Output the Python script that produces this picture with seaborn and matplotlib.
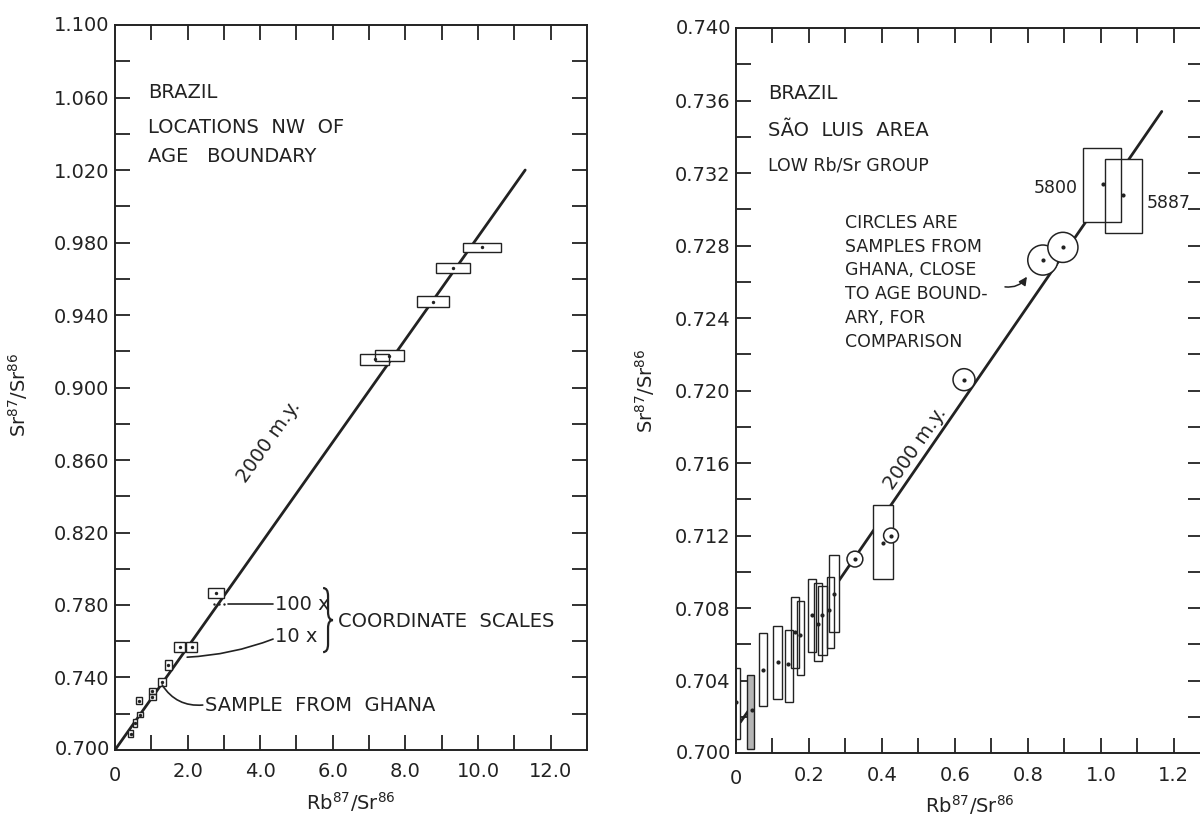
import numpy as np
import pandas as pd
import matplotlib
matplotlib.use("Agg")
import matplotlib.pyplot as plt
import seaborn as sns
from matplotlib.patches import Rectangle, PathPatch
from matplotlib.path import Path

# ==========================================
# Data
# ==========================================
# left panel: locations NW of age boundary
L_ISO_X = [0.0, 11.3]
L_ISO_Y = [0.700, 1.020]

L_BOX_X0 = [9.59, 8.84, 8.32, 6.75, 7.15, 2.56, 1.63, 1.96, 1.38, 1.18, 0.94, 0.94, 0.58, 0.60, 0.50, 0.36]
L_BOX_X1 = [10.63, 9.78, 9.20, 7.55, 7.95, 3.00, 1.93, 2.26, 1.57, 1.40, 1.13, 1.13, 0.74, 0.77, 0.60, 0.50]
L_BOX_Y0 = [0.9748, 0.9632, 0.9443, 0.9125, 0.9145, 0.7839, 0.7541, 0.7541, 0.7442, 0.7353, 0.7308, 0.7276, 0.7254, 0.7180, 0.7127, 0.7070]
L_BOX_Y1 = [0.9798, 0.9688, 0.9505, 0.9185, 0.9205, 0.7894, 0.7596, 0.7596, 0.7497, 0.7397, 0.7340, 0.7308, 0.7292, 0.7210, 0.7170, 0.7110]
L_DOT_X = [10.11, 9.31, 8.76, 7.15, 7.55, 2.78, 1.78, 2.11, 1.47, 1.29, 1.03, 1.03, 0.66, 0.68, 0.55, 0.43]
L_DOT_Y = [0.9773, 0.9660, 0.9474, 0.9155, 0.9175, 0.7867, 0.7568, 0.7568, 0.7470, 0.7375, 0.7324, 0.7292, 0.7273, 0.7195, 0.7150, 0.7090]
L_SCALE_X = [2.72, 2.86, 3.00]        # tiny "100 x" marker
L_SCALE_Y = [0.7805, 0.7805, 0.7805]

# right panel: Sao Luis area, low Rb/Sr group
R_ISO_X = [[0.012, 0.040], [0.275, 1.167]]
R_ISO_Y = [[0.7017, 0.7025], [0.7093, 0.7354]]

R_BOX_X0 = [-0.002, 0.030, 0.063, 0.101, 0.134, 0.150, 0.167, 0.197, 0.214, 0.225, 0.249, 0.255, 0.375, 0.951, 1.011]
R_BOX_X1 = [0.011, 0.049, 0.085, 0.126, 0.156, 0.173, 0.186, 0.219, 0.236, 0.249, 0.268, 0.282, 0.430, 1.055, 1.112]
R_BOX_Y0 = [0.7008, 0.7002, 0.7026, 0.7030, 0.7028, 0.7047, 0.7043, 0.7056, 0.7051, 0.7054, 0.7058, 0.7067, 0.7096, 0.7293, 0.7287]
R_BOX_Y1 = [0.7047, 0.7043, 0.7066, 0.7070, 0.7068, 0.7086, 0.7084, 0.7096, 0.7094, 0.7092, 0.7097, 0.7109, 0.7137, 0.7334, 0.7328]
R_DOT_X = [0.000, 0.044, 0.074, 0.115, 0.143, 0.162, 0.175, 0.208, 0.225, 0.235, 0.255, 0.268, 0.403, 1.005, 1.060]
R_DOT_Y = [0.7028, 0.7024, 0.7046, 0.7050, 0.7049, 0.7067, 0.7065, 0.7076, 0.7071, 0.7076, 0.7079, 0.7088, 0.7116, 0.7314, 0.7308]

# Ghana samples (circles)
R_CIRC_X = [0.326, 0.425, 0.625, 0.841, 0.896]
R_CIRC_Y = [0.7107, 0.7120, 0.7206, 0.7272, 0.7279]

# tick labels
L_XTICKLABELS = ['0', '', '2.0', '', '4.0', '', '6.0', '', '8.0', '', '10.0', '', '12.0']
L_YTICKLABELS = ['0.700', '', '0.740', '', '0.780', '', '0.820', '', '0.860', '', '0.900',
                 '', '0.940', '', '0.980', '', '1.020', '', '1.060', '', '1.100']
R_XTICKLABELS = ['0', '', '0.2', '', '0.4', '', '0.6', '', '0.8', '', '1.0', '', '1.2']
R_YTICKLABELS = ['0.700', '', '0.704', '', '0.708', '', '0.712', '', '0.716', '', '0.720',
                 '', '0.724', '', '0.728', '', '0.732', '', '0.736', '', '0.740']

# ==========================================
# Style
# ==========================================
INK = '#222222'
sns.set_theme(style="ticks")
plt.rcParams['font.family'] = ['DejaVu Sans']
plt.rcParams['text.color'] = INK
plt.rcParams['axes.edgecolor'] = INK
plt.rcParams['xtick.color'] = INK
plt.rcParams['ytick.color'] = INK
plt.rcParams['axes.labelcolor'] = INK
plt.rcParams['mathtext.default'] = 'regular'


def style_axes(ax, xlim, ylim, xstep, xticklabels, yticklabels):
    ax.set_xlim(*xlim)
    ax.set_ylim(*ylim)
    xt = np.linspace(xlim[0], xlim[0] + (len(xticklabels) - 1) * xstep, len(xticklabels))
    yt = np.linspace(ylim[0], ylim[1], len(yticklabels))
    ax.set_xticks(xt[1:])
    ax.set_xticklabels(xticklabels[1:])
    ax.set_yticks(yt[1:-1])
    ax.set_yticklabels(yticklabels[1:-1])
    for s in ax.spines.values():
        s.set_linewidth(1.4)
        s.set_visible(True)
    ax.tick_params(direction='in', length=10.5, width=1.3, top=True, right=True,
                   labelsize=14)
    ax.tick_params(axis='x', pad=9)
    ax.tick_params(axis='y', pad=4)
    # corner labels that sit on the spines
    ax.text(0, -0.022, xticklabels[0], transform=ax.transAxes, ha='center', va='top',
            fontsize=14)
    ax.text(-0.011, 0, yticklabels[0], transform=ax.transAxes, ha='right', va='center',
            fontsize=14)
    ax.text(-0.011, 1, yticklabels[-1], transform=ax.transAxes, ha='right', va='center',
            fontsize=14)
    ax.set_xlabel(r'Rb$^{87}$/Sr$^{86}$', fontsize=14)
    ax.set_ylabel(r'Sr$^{87}$/Sr$^{86}$', fontsize=14)
    ax.xaxis.set_label_coords(0.5, -0.055)


def draw_boxes(ax, x0, x1, y0, y1, fills):
    for a, b, c, d, f in zip(x0, x1, y0, y1, fills):
        ax.add_patch(Rectangle((a, c), b - a, d - c, facecolor=f, edgecolor='none', zorder=2))
        ax.add_patch(Rectangle((a, c), b - a, d - c, facecolor='none', edgecolor=INK,
                               linewidth=1.0, zorder=3))


def draw_brace(ax, x0, y0, y1, w, q):
    xm = x0 + w / 2
    ym = (y0 + y1) / 2
    verts = [(x0, y1), (xm, y1), (xm, y1 - q), (xm, ym + q), (xm, ym), (x0 + w, ym),
             (x0 + w, ym), (xm, ym), (xm, ym - q), (xm, y0 + q), (xm, y0), (x0, y0)]
    codes = [Path.MOVETO, Path.CURVE3, Path.CURVE3, Path.LINETO, Path.CURVE3, Path.CURVE3,
             Path.MOVETO, Path.CURVE3, Path.CURVE3, Path.LINETO, Path.CURVE3, Path.CURVE3]
    ax.add_patch(PathPatch(Path(verts, codes), fill=False, edgecolor=INK, linewidth=1.6,
                           transform=ax.transAxes, clip_on=False))


fig = plt.figure(figsize=(12, 8.21), dpi=100)
axL = fig.add_axes([0.0958, 0.0865, 0.3933, 0.883])
axR = fig.add_axes([0.6133, 0.0828, 0.3892, 0.883])

# ---------------- left panel ----------------
iso_l = pd.DataFrame({'x': L_ISO_X, 'y': L_ISO_Y})
sns.lineplot(data=iso_l, x='x', y='y', ax=axL, color=INK, linewidth=2.0, zorder=1,
             estimator=None, sort=False)
draw_boxes(axL, L_BOX_X0, L_BOX_X1, L_BOX_Y0, L_BOX_Y1, ['white'] * len(L_BOX_X0))
dots_l = pd.DataFrame({'x': L_DOT_X, 'y': L_DOT_Y})
sns.scatterplot(data=dots_l, x='x', y='y', ax=axL, color=INK, s=6, linewidth=0, zorder=4)
sc_l = pd.DataFrame({'x': L_SCALE_X, 'y': L_SCALE_Y})
sns.scatterplot(data=sc_l, x='x', y='y', ax=axL, color=INK, s=3, linewidth=0, zorder=4)
style_axes(axL, (0, 13), (0.700, 1.100), 1.0, L_XTICKLABELS, L_YTICKLABELS)
axL.yaxis.set_label_coords(-0.18, 0.49)

axL.text(0.07, 0.907, 'BRAZIL', transform=axL.transAxes, fontsize=14, va='center')
axL.text(0.07, 0.858, 'LOCATIONS  NW  OF', transform=axL.transAxes, fontsize=14, va='center')
axL.text(0.07, 0.819, 'AGE   BOUNDARY', transform=axL.transAxes, fontsize=14, va='center')
axL.text(0.325, 0.425, '2000 m.y.', transform=axL.transAxes, fontsize=14, rotation=54.7,
         ha='center', va='center')

axL.text(0.339, 0.201, '100 x', transform=axL.transAxes, fontsize=14, va='center')
axL.text(0.339, 0.156, '10 x', transform=axL.transAxes, fontsize=14, va='center')
axL.plot([0.239, 0.335], [0.201, 0.201], transform=axL.transAxes, color=INK, linewidth=1.2)
axL.annotate('', xy=(0.153, 0.128), xytext=(0.335, 0.153), xycoords='axes fraction',
             textcoords='axes fraction',
             arrowprops=dict(arrowstyle='-', color=INK, linewidth=1.2,
                             connectionstyle='arc3,rad=-0.08', shrinkA=0, shrinkB=0))
draw_brace(axL, 0.441, 0.135, 0.2234, 0.021, 0.011)
axL.text(0.472, 0.177, 'COORDINATE  SCALES', transform=axL.transAxes, fontsize=14,
         va='center')
axL.text(0.19, 0.062, 'SAMPLE  FROM  GHANA', transform=axL.transAxes, fontsize=14,
         va='center')
axL.annotate('', xy=(0.10, 0.0897), xytext=(0.186, 0.062), xycoords='axes fraction',
             textcoords='axes fraction',
             arrowprops=dict(arrowstyle='-', color=INK, linewidth=1.2,
                             connectionstyle='arc3,rad=-0.3', shrinkA=0, shrinkB=0))

# ---------------- right panel ----------------
for sx, sy in zip(R_ISO_X, R_ISO_Y):
    seg = pd.DataFrame({'x': sx, 'y': sy})
    sns.lineplot(data=seg, x='x', y='y', ax=axR, color=INK, linewidth=2.0, zorder=1,
                 estimator=None, sort=False)
fills = ['white'] * len(R_BOX_X0)
fills[1] = '#b5b5b5'
draw_boxes(axR, R_BOX_X0, R_BOX_X1, R_BOX_Y0, R_BOX_Y1, fills)
circ = pd.DataFrame({'x': R_CIRC_X, 'y': R_CIRC_Y})
sns.scatterplot(data=circ, x='x', y='y', ax=axR, s=[130, 115, 250, 470, 470],
                facecolor='white', edgecolor=INK, linewidth=1.1, zorder=3)
sns.scatterplot(data=circ, x='x', y='y', ax=axR, color=INK, s=9, linewidth=0, zorder=4)
dots_r = pd.DataFrame({'x': R_DOT_X, 'y': R_DOT_Y})
sns.scatterplot(data=dots_r, x='x', y='y', ax=axR, color=INK, s=9, linewidth=0, zorder=4)
style_axes(axR, (0, 1.28), (0.700, 0.740), 0.1, R_XTICKLABELS, R_YTICKLABELS)
axR.yaxis.set_label_coords(-0.17, 0.50)

axR.text(0.0685, 0.910, 'BRAZIL', transform=axR.transAxes, fontsize=14, va='center')
axR.text(0.0685, 0.859, 'SÃO  LUIS  AREA', transform=axR.transAxes, fontsize=14, va='center')
axR.text(0.0685, 0.811, 'LOW Rb/Sr GROUP', transform=axR.transAxes, fontsize=12.5,
         va='center')
axR.text(0.233, 0.744, 'CIRCLES ARE\nSAMPLES FROM\nGHANA, CLOSE\nTO AGE BOUND-\nARY, FOR\nCOMPARISON',
         transform=axR.transAxes, fontsize=12.5, va='top', linespacing=1.42)
axR.annotate('', xy=(0.623, 0.657), xytext=(0.576, 0.643), xycoords='axes fraction',
             textcoords='axes fraction',
             arrowprops=dict(arrowstyle='-|>,head_length=0.4,head_width=0.2', color=INK,
                             linewidth=1.1, connectionstyle='arc3,rad=0.3',
                             shrinkA=0, shrinkB=0))
axR.text(0.383, 0.421, '2000 m.y.', transform=axR.transAxes, fontsize=14, rotation=55.4,
         ha='center', va='center')
axR.text(0.732, 0.779, '5800', transform=axR.transAxes, fontsize=12.5, ha='right',
         va='center')
axR.text(0.880, 0.759, '5887', transform=axR.transAxes, fontsize=12.5, va='center')

fig.savefig('out.png', dpi=100)
